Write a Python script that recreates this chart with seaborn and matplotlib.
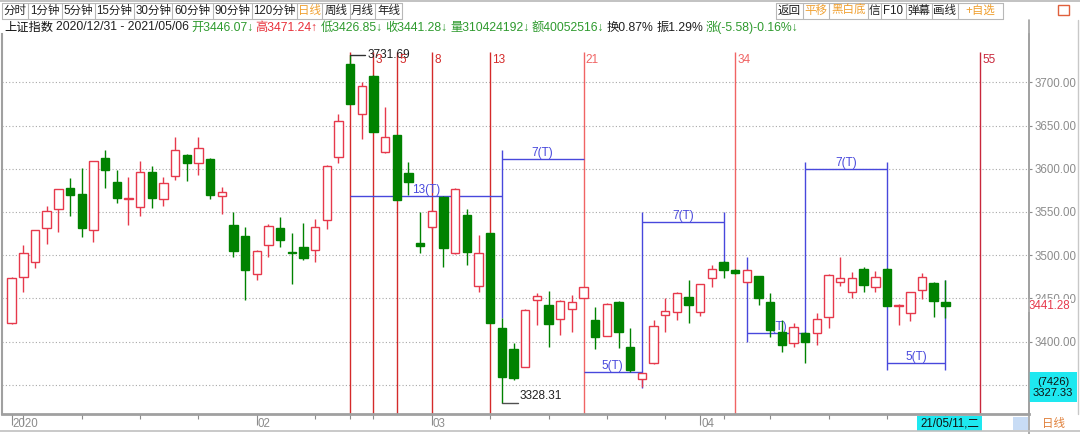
import matplotlib
matplotlib.use("Agg")
import matplotlib.pyplot as plt
import matplotlib.transforms as mtransforms
from matplotlib.patches import Rectangle
import numpy as np
import pandas as pd
import seaborn as sns

# 上证指数 日线 2020/12/31 - 2021/05/06
opens = [3421.0, 3474.7, 3492.2, 3530.9, 3552.9, 3577.7, 3570.9, 3528.5, 3612.0, 3585.0,
         3565.0, 3555.3, 3596.6, 3565.0, 3591.6, 3616.3, 3606.2, 3611.3, 3568.0, 3535.3,
         3522.5, 3478.1, 3511.7, 3531.0, 3503.5, 3509.0, 3505.9, 3540.6, 3613.2, 3721.2,
         3663.3, 3707.3, 3619.0, 3638.6, 3595.4, 3514.4, 3532.9, 3567.6, 3502.1, 3546.8,
         3464.6, 3525.2, 3416.0, 3390.9, 3370.9, 3448.0, 3442.2, 3425.6, 3437.2, 3450.7,
         3424.9, 3406.7, 3446.0, 3394.0, 3356.6, 3374.7, 3430.7, 3434.5, 3452.0, 3434.5,
         3473.1, 3492.4, 3483.0, 3468.4, 3475.8, 3446.1, 3411.3, 3397.8, 3410.2, 3409.4,
         3427.9, 3468.4, 3457.6, 3483.5, 3463.4, 3483.9, 3441.0, 3433.3, 3459.6, 3468.1,
         3446.07]
highs = [3475.0, 3511.7, 3528.7, 3556.8, 3576.2, 3588.7, 3600.8, 3608.3, 3622.0, 3599.0,
         3590.0, 3608.6, 3603.5, 3590.0, 3637.0, 3617.0, 3637.0, 3612.0, 3579.0, 3549.5,
         3532.2, 3506.0, 3535.5, 3543.7, 3525.2, 3537.5, 3541.8, 3604.0, 3663.3, 3731.69,
         3700.7, 3708.0, 3671.8, 3639.0, 3608.2, 3550.3, 3552.0, 3568.0, 3577.3, 3553.0,
         3523.3, 3525.5, 3427.5, 3397.9, 3437.5, 3455.7, 3458.4, 3447.5, 3453.8, 3463.5,
         3440.3, 3444.2, 3446.5, 3415.2, 3364.0, 3424.9, 3450.0, 3457.5, 3471.0, 3467.0,
         3488.5, 3493.0, 3484.0, 3484.0, 3476.0, 3456.5, 3424.8, 3421.0, 3410.5, 3433.4,
         3478.5, 3498.1, 3480.8, 3486.6, 3482.0, 3484.5, 3443.5, 3457.6, 3478.9, 3468.5,
         3471.24]
lows = [3420.0, 3457.2, 3484.7, 3513.0, 3526.6, 3544.9, 3521.5, 3515.7, 3578.0, 3560.0,
        3535.0, 3545.7, 3555.0, 3557.0, 3587.0, 3586.0, 3592.7, 3565.0, 3547.6, 3498.0,
        3448.0, 3471.5, 3497.4, 3509.8, 3466.6, 3494.3, 3492.4, 3530.2, 3606.2, 3675.0,
        3634.0, 3642.0, 3618.0, 3564.0, 3569.2, 3502.0, 3529.8, 3486.6, 3501.5, 3488.5,
        3457.7, 3421.0, 3328.31, 3355.4, 3370.0, 3419.0, 3394.0, 3407.5, 3411.4, 3450.0,
        3391.0, 3406.0, 3392.1, 3365.0, 3347.7, 3374.0, 3411.4, 3424.9, 3421.0, 3429.5,
        3462.7, 3473.1, 3478.0, 3468.0, 3442.2, 3404.8, 3388.2, 3394.0, 3374.7, 3395.9,
        3415.2, 3464.2, 3449.9, 3457.6, 3457.6, 3441.0, 3419.0, 3424.1, 3448.8, 3428.7,
        3426.85]
closes = [3473.07, 3502.96, 3528.68, 3550.88, 3576.20, 3570.11, 3531.50, 3608.34, 3598.65, 3566.0,
          3566.38, 3596.22, 3566.31, 3583.09, 3621.26, 3606.75, 3624.24, 3569.43, 3573.34, 3505.18,
          3483.07, 3505.29, 3533.68, 3517.31, 3501.86, 3496.33, 3532.44, 3603.49, 3655.09, 3675.36,
          3696.17, 3642.44, 3636.36, 3564.08, 3585.05, 3510.5, 3551.40, 3508.59, 3576.90, 3503.49,
          3501.99, 3421.41, 3359.29, 3357.74, 3436.83, 3453.08, 3419.95, 3446.73, 3445.55, 3463.07,
          3404.66, 3443.44, 3411.51, 3367.06, 3363.59, 3418.33, 3435.30, 3456.68, 3441.91, 3466.33,
          3484.39, 3482.48, 3479.63, 3482.40, 3450.68, 3412.95, 3396.47, 3416.4, 3399.0, 3426.62,
          3477.55, 3472.94, 3472.93, 3465.11, 3474.17, 3441.17, 3442.61, 3457.07, 3474.90, 3446.86,
          3441.28]

holidays = ["2021-01-01", "2021-02-11", "2021-02-12", "2021-02-15", "2021-02-16",
            "2021-02-17", "2021-04-05", "2021-05-03", "2021-05-04", "2021-05-05"]

# fibonacci time zones counted from 2021/02/10
fib_base = 28
fib_steps = [1, 3, 5, 8, 13, 21, 34, 55]
fib_labels = ["", "3", "5", "8", "13", "21", "34", "55"]
fib_colors = ["#d42a2a", "#d42a2a", "#d42a2a", "#d42a2a", "#d42a2a", "#f06464", "#f06464", "#c8283c"]

# period measuring tool: (start bar, end bar, price level, label)
span_start = [29, 42, 49, 54, 63, 68, 75]
span_end = [42, 49, 54, 61, 68, 75, 80]
span_level = [3568.4, 3611.2, 3364.4, 3538.7, 3410.2, 3599.3, 3374.8]
span_label = ["13(T)", "7(T)", "5(T)", "7(T)", "5(T)", "7(T)", "5(T)"]
# vertical legs: (bar, low price, high price)
leg_bar = [42, 54, 61, 63, 68, 75, 80]
leg_low = [3427.0, 3346.0, 3492.4, 3399.8, 3405.0, 3367.0, 3367.0]
leg_high = [3621.6, 3549.5, 3549.5, 3497.4, 3608.1, 3608.1, 3471.2]

yticks = [3350, 3400, 3450, 3500, 3550, 3600, 3650, 3700]

sns.set_theme(style="white")
plt.rcParams["font.family"] = ["Liberation Sans", "Noto Sans CJK SC", "DejaVu Sans"]
plt.rcParams["axes.unicode_minus"] = False

RED = "#e6394c"
GREEN = "#008200"
GRAY = "#8c8c8c"
BLUE = "#4848dc"
CYAN = "#1ee8f0"
ORANGE = "#f0a030"

dates = pd.bdate_range("2020-12-31", "2021-05-06")
dates = dates[~dates.isin(pd.to_datetime(holidays))]
n = len(closes)
x = np.arange(n)
o = np.array(opens)
c = np.array(closes)
hi = np.array(highs)
lo = np.array(lows)
up = c >= o

W, H = 1080, 434
fig = plt.figure(figsize=(W / 100, H / 100), dpi=100)
ax = fig.add_axes([2 / W, 1 - 414 / H, 1027 / W, 380 / H])
ax.set_xlim(-0.83, 87.17)
ax.set_ylim(3316.1, 3755.9)

# candles
cols = np.where(up, RED, GREEN)
ax.vlines(x, lo, hi, colors=cols, lw=1.0, zorder=3)
body_lo = np.minimum(o, c)
body_h = np.maximum(np.abs(c - o), 0.8)
ax.bar(x, body_h, bottom=body_lo, width=0.72, color=np.where(up, "white", GREEN),
       edgecolor=cols, linewidth=1.0, zorder=4)

# grid + right price axis (lowest label sits under the cyan box, so it stays blank)
ax.set_yticks(yticks)
ax.set_yticklabels(["" if v == yticks[0] else f"{v:.2f}" for v in yticks])
ax.yaxis.tick_right()
ax.grid(axis="y", color="#a8a8a8", ls=(0, (1, 2)), lw=0.8)
ax.tick_params(axis="y", which="both", right=True, length=2.5, pad=1.5, colors=GRAY,
               labelsize=8.3, width=0.8)
for s in ["left", "right", "bottom"]:
    ax.spines[s].set_color("#a0a0a0")
ax.spines["left"].set_linewidth(1.5)
ax.spines["right"].set_linewidth(1.2)
ax.spines["bottom"].set_linewidth(2.0)
ax.spines["top"].set_visible(False)

# x axis: month starts (major) and week starts (minor)
dser = pd.Series(dates)
month_start = list(np.where(dser.dt.to_period("M") != dser.dt.to_period("M").shift())[0])
week_start = list(np.where(dser.dt.to_period("W") != dser.dt.to_period("W").shift())[0])
ax.set_xticks(month_start)
ax.set_xticks(week_start, minor=True)
ax.set_xticklabels([])
ax.tick_params(axis="x", which="major", bottom=True, length=8, width=0.8, colors=GRAY)
ax.tick_params(axis="x", which="minor", bottom=True, length=3.5, width=0.8, colors=GRAY)
trans = mtransforms.blended_transform_factory(ax.transData, ax.transAxes)
last = -10
for i in month_start:
    d = dates[i]
    lab = str(d.year) if (i == 0 or d.month == 1) else f"{d.month:02d}"
    if i - last < 3 or n - i < 3:
        continue
    ax.text(i + 0.1, -0.027, lab, transform=trans, color=GRAY, fontsize=8.3,
            ha="left", va="center")
    last = i

# fibonacci time lines
fib_x = [fib_base + s for s in fib_steps]
ax.vlines(fib_x, 3316.1, 3735.4, colors=fib_colors, lw=1.0, zorder=2)
for fx_, lab, colr in zip(fib_x, fib_labels, fib_colors):
    ax.text(fx_ + 0.2, 3725.8, lab, color=colr, fontsize=8.5, va="center", ha="left", zorder=6)

# period spans
ax.hlines(span_level, span_start, span_end, colors=BLUE, lw=1.0, zorder=2.5)
ax.vlines(leg_bar, leg_low, leg_high, colors=BLUE, lw=1.0, zorder=2.5)
for s0, s1, lv, lab in zip(span_start, span_end, span_level, span_label):
    ax.text((s0 + s1) / 2, lv, lab, color=BLUE, fontsize=8.5, ha="center", va="bottom", zorder=2.6)

# high / low markers
imax = int(np.argmax(hi))
imin = int(np.argmin(lo))
ax.plot([imax, imax + 1.27], [hi[imax]] * 2, color="#303030", lw=1.0, zorder=5)
ax.text(imax + 1.45, hi[imax], f"{hi[imax]:.2f}", color="#202020", fontsize=8.5,
        va="center", ha="left", zorder=5)
ax.plot([imin, imin + 1.35], [lo[imin]] * 2, color="#505050", lw=1.0, zorder=5)
ax.text(imin + 1.55, lo[imin] + 8.5, f"{lo[imin]:.2f}", color="#202020", fontsize=8.5,
        va="center", ha="left", zorder=5)

# last price tag on the axis
ax.text(1.0, c[-1], f"{c[-1]:.2f}", transform=mtransforms.blended_transform_factory(ax.transAxes, ax.transData),
        color=RED, fontsize=8.3, ha="left", va="center", clip_on=False,
        bbox=dict(boxstyle="square,pad=0.05", fc="white", ec="none"))

# ---- overlay in pixel coordinates: toolbar, info line, boxes ----
ov = fig.add_axes([0, 0, 1, 1], zorder=5)
ov.set_xlim(0, W)
ov.set_ylim(H, 0)
ov.axis("off")
ov.patch.set_alpha(0)

line_c = "#b8b8b8"
ov.plot([0, W], [1, 1], color=line_c, lw=1.2)
left_btn = ["分时", "1分钟", "5分钟", "15分钟", "30分钟", "60分钟", "90分钟", "120分钟", "日线", "周线", "月线", "年线"]
left_edges = [2, 28, 62, 95, 134, 172, 213, 252, 297, 322, 350, 375, 402]
right_btn = ["返回", "平移", "黑白底", "信", "F10", "弹幕", "画线", "+自选"]
right_edges = [776, 803, 829, 868, 881, 906, 932, 958, 1003]
orange_btn = {"日线", "平移", "黑白底", "+自选"}
for labels, edges in [(left_btn, left_edges), (right_btn, right_edges)]:
    ov.plot([edges[0], edges[-1]], [3, 3], color=line_c, lw=0.8)
    ov.plot([edges[0], edges[-1]], [19, 19], color=line_c, lw=0.8)
    for e in edges:
        ov.plot([e, e], [3, 19], color=line_c, lw=0.8)
    for lab, a, b in zip(labels, edges[:-1], edges[1:]):
        ov.text((a + b) / 2, 11, lab, fontsize=8.3, ha="center", va="center",
                color=ORANGE if lab in orange_btn else "#202020")
ov.add_patch(Rectangle((1058, 5), 11, 10, fc="none", ec="#e0603c", lw=1.0))

info_parts = [("上证指数", "#101010"), ("2020/12/31 - 2021/05/06", "#202020"),
              ("开3446.07↓", "#2e9a2e"), ("高3471.24↑", "#e8303a"), ("低3426.85↓", "#2e9a2e"),
              ("收3441.28↓", "#2e9a2e"), ("量310424192↓", "#2e9a2e"), ("额40052516↓", "#2e9a2e"),
              ("换0.87%", "#202020"), ("振1.29%", "#202020"), ("涨(-5.58)-0.16%↓", "#2e9a2e")]
renderer = fig.canvas.get_renderer()
xpos = 4
for txt, colr in info_parts:
    t = ov.text(xpos, 27.5, txt, color=colr, fontsize=8.8, ha="left", va="center")
    xpos += t.get_window_extent(renderer).width + 2.5

# right panel edge, bottom strip
ov.plot([1029, 1029], [20, 434], color="#a0a0a0", lw=1.2)
ov.plot([1078, 1078], [20, 414], color="#c8c8c8", lw=1.0)
ov.plot([0, W], [431, 431], color="#c0c0c0", lw=1.2)
ov.add_patch(Rectangle((1029, 372), 48, 30, fc=CYAN, ec="none"))
ov.text(1053, 387.5, "(7426)\n3327.33", fontsize=8.0, ha="center", va="center",
        color="#101010", linespacing=1.05)
ov.add_patch(Rectangle((917, 416), 65, 15, fc=CYAN, ec="none"))
ov.text(949.5, 423.5, "21/05/11,二", fontsize=8.3, ha="center", va="center", color="#101010")
ov.add_patch(Rectangle((1013, 417), 15, 13, fc="#c8dcf5", ec="none"))
ov.text(1053, 423.5, "日线", fontsize=8.3, ha="center", va="center", color="#e0803a")

fig.savefig("out.png", dpi=100, facecolor="white")
